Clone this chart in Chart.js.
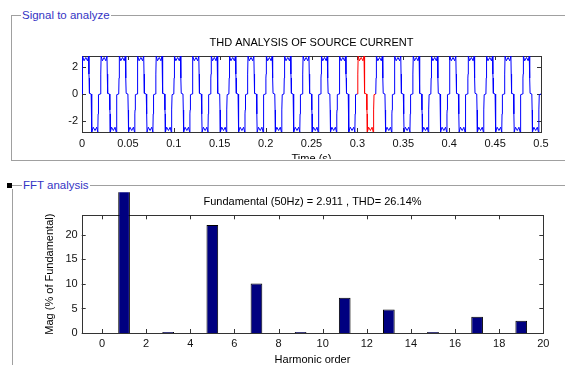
<!DOCTYPE html>
<html>
<head>
<meta charset="utf-8">
<script src="https://cdn.jsdelivr.net/npm/chart.js@4.4.0/dist/chart.umd.min.js"></script>
<style>
body{margin:0;width:565px;height:365px;overflow:hidden;position:relative;background:#fff;font-family:"Liberation Sans",Arial,sans-serif}
.line{position:absolute;border:0 solid #a0a0a0}
.legend{position:absolute;background:#fff;color:#3434c4;font-size:11.5px;line-height:13px;padding:0 1px}
</style>
</head>
<body>
<div class="line" style="left:11px;top:15px;width:560px;height:144px;border-left-width:1px;border-top-width:1px;border-bottom-width:1px"></div>
<div class="legend" style="left:21px;top:9px">Signal to analyze</div>
<div class="line" style="left:12px;top:185px;width:560px;border-top-width:1px"></div>
<div class="line" style="left:12px;top:189px;height:180px;border-left-width:1px"></div>
<div style="position:absolute;left:7px;top:183px;width:5px;height:5px;background:#000"></div>
<div class="legend" style="left:22px;top:179px">FFT analysis</div>

<div style="position:absolute;left:0;top:0;width:565px;height:159px;overflow:hidden">
  <canvas id="signal" width="565" height="166"></canvas>
</div>
<div style="position:absolute;left:0;top:187px;width:565px;height:180px">
  <canvas id="fft" width="565" height="180"></canvas>
</div>

<script>
// one period of the source current (angle in degrees, current)
const cycleAngle = [0, 6, 10, 15, 40, 75, 108, 130, 136, 140, 146, 180, 186, 190, 195, 220, 255, 288, 310, 316, 320, 326, 360]
const cycleCurrent = [0, 1.2, 1.5, 2.86, 2.5, 2.75, 2.5, 2.86, 1.5, 1.2, 0.05, 0, -1.2, -1.5, -2.86, -2.5, -2.75, -2.5, -2.86, -1.5, -1.2, -0.05, 0]
const period = 0.02
const cycles = 25
const windowStart = 0.30
const windowEnd = 0.32
const timeTicks = [0, 0.05, 0.1, 0.15, 0.2, 0.25, 0.3, 0.35, 0.4, 0.45, 0.5]
const currentTicks = [-2, 0, 2]

const harmonicOrder = [0, 1, 2, 3, 4, 5, 6, 7, 8, 9, 10, 11, 12, 13, 14, 15, 16, 17, 18, 19]
const harmonicMag = [0, 100, 0, 0.2, 0, 22.0, 0, 10.1, 0, 0.2, 0, 7.2, 0, 4.8, 0, 0.2, 0, 3.3, 0, 2.5]
const orderTicks = [0, 2, 4, 6, 8, 10, 12, 14, 16, 18, 20]
const magTicks = [0, 5, 10, 15, 20]

Chart.defaults.font.family = '"Liberation Sans", Arial, sans-serif'
Chart.defaults.font.size = 11
Chart.defaults.color = '#111'
Chart.defaults.animation = false

// the measured period repeated along the time axis
let signal = []
for (let c = 0; c < cycles; c++) {
    cycleAngle.forEach((a, i) => {
        if (c > 0 && i == 0) return
        signal.push({x: c * period + a / 360 * period, y: cycleCurrent[i]})
    })
}

const boxTicks = {
    id: 'boxTicks',
    beforeDatasetsDraw(chart) {
        const {ctx, chartArea: a, scales} = chart
        ctx.save()
        ctx.strokeStyle = '#333'
        ctx.lineWidth = 1
        ctx.beginPath()
        scales.x.ticks.forEach(t => {
            const px = Math.round(scales.x.getPixelForValue(t.value)) + 0.5
            ctx.moveTo(px, a.bottom); ctx.lineTo(px, a.bottom - 4)
            ctx.moveTo(px, a.top); ctx.lineTo(px, a.top + 4)
        })
        scales.y.ticks.forEach(t => {
            const py = Math.round(scales.y.getPixelForValue(t.value)) + 0.5
            ctx.moveTo(a.left, py); ctx.lineTo(a.left + 4, py)
            ctx.moveTo(a.right, py); ctx.lineTo(a.right - 4, py)
        })
        ctx.stroke()
        ctx.strokeRect(Math.round(a.left) + 0.5, Math.round(a.top) + 0.5, Math.round(a.right) - Math.round(a.left), Math.round(a.bottom) - Math.round(a.top))
        ctx.restore()
    }
}

const fixedTicks = (list) => (scale) => { scale.ticks = list.map(v => ({value: v})) }
const noGrid = {display: false, drawTicks: false}

new Chart(document.getElementById('signal'), {
    type: 'line',
    data: {
        datasets: [{
            data: signal,
            borderColor: '#0000ff',
            borderWidth: 1,
            pointRadius: 0,
            tension: 0,
            segment: {
                borderColor: (s) => (s.p0.parsed.x >= windowStart - 1e-9 && s.p1.parsed.x <= windowEnd + 1e-9) ? '#ff0000' : undefined
            }
        }]
    },
    options: {
        responsive: false,
        layout: {padding: {left: 0, right: 24, top: 0, bottom: 0}},
        plugins: {
            legend: {display: false},
            tooltip: {enabled: false},
            title: {
                display: true,
                text: 'THD ANALYSIS OF SOURCE CURRENT',
                fullSize: false,
                color: '#000',
                font: {size: 11, weight: 'normal'},
                padding: {top: 36.4, bottom: 6.4}
            }
        },
        scales: {
            x: {
                type: 'linear', min: 0, max: 0.5,
                afterBuildTicks: fixedTicks(timeTicks),
                afterFit: (s) => { s.height = 34 },
                grid: noGrid, border: {display: false},
                ticks: {padding: 5, maxRotation: 0, autoSkip: false, callback: (v) => String(v)},
                title: {display: true, text: 'Time (s)', color: '#000', padding: 0}
            },
            y: {
                min: -2.86, max: 2.86,
                afterBuildTicks: fixedTicks(currentTicks),
                afterFit: (s) => { s.width = 82 },
                grid: noGrid, border: {display: false},
                ticks: {padding: 4}
            }
        }
    },
    plugins: [boxTicks]
})

new Chart(document.getElementById('fft'), {
    type: 'bar',
    data: {
        datasets: [{
            data: harmonicOrder.map((h, i) => ({x: h, y: harmonicMag[i]})),
            backgroundColor: '#000080',
            borderColor: '#000',
            borderWidth: (c) => (c.raw && c.raw.y > 0) ? 1 : 0,
            borderSkipped: 'start',
            categoryPercentage: 1,
            barPercentage: 0.53,
            clip: {left: 0, top: 23, right: 0, bottom: 0}
        }]
    },
    options: {
        responsive: false,
        layout: {padding: {left: 43.4, right: 21.7, top: 0, bottom: 0}},
        plugins: {
            legend: {display: false},
            tooltip: {enabled: false},
            title: {
                display: true,
                text: 'Fundamental (50Hz) = 2.911 , THD= 26.14%',
                fullSize: false,
                color: '#000',
                font: {size: 11, weight: 'normal'},
                padding: {top: 8.1, bottom: 7.0}
            }
        },
        scales: {
            x: {
                type: 'linear', min: -0.92, max: 20, offset: false,
                afterBuildTicks: fixedTicks(orderTicks),
                afterFit: (s) => { s.height = 34 },
                grid: noGrid, border: {display: false},
                ticks: {padding: 4, maxRotation: 0, autoSkip: false},
                title: {display: true, text: 'Harmonic order', color: '#000', padding: 0}
            },
            y: {
                min: 0, max: 24,
                afterBuildTicks: fixedTicks(magTicks),
                afterFit: (s) => { s.width = 81.7 - 43.4 },
                grid: noGrid, border: {display: false},
                ticks: {padding: 4},
                title: {display: true, text: 'Mag (% of Fundamental)', color: '#000', padding: 0}
            }
        }
    },
    plugins: [boxTicks]
})
</script>
</body>
</html>
